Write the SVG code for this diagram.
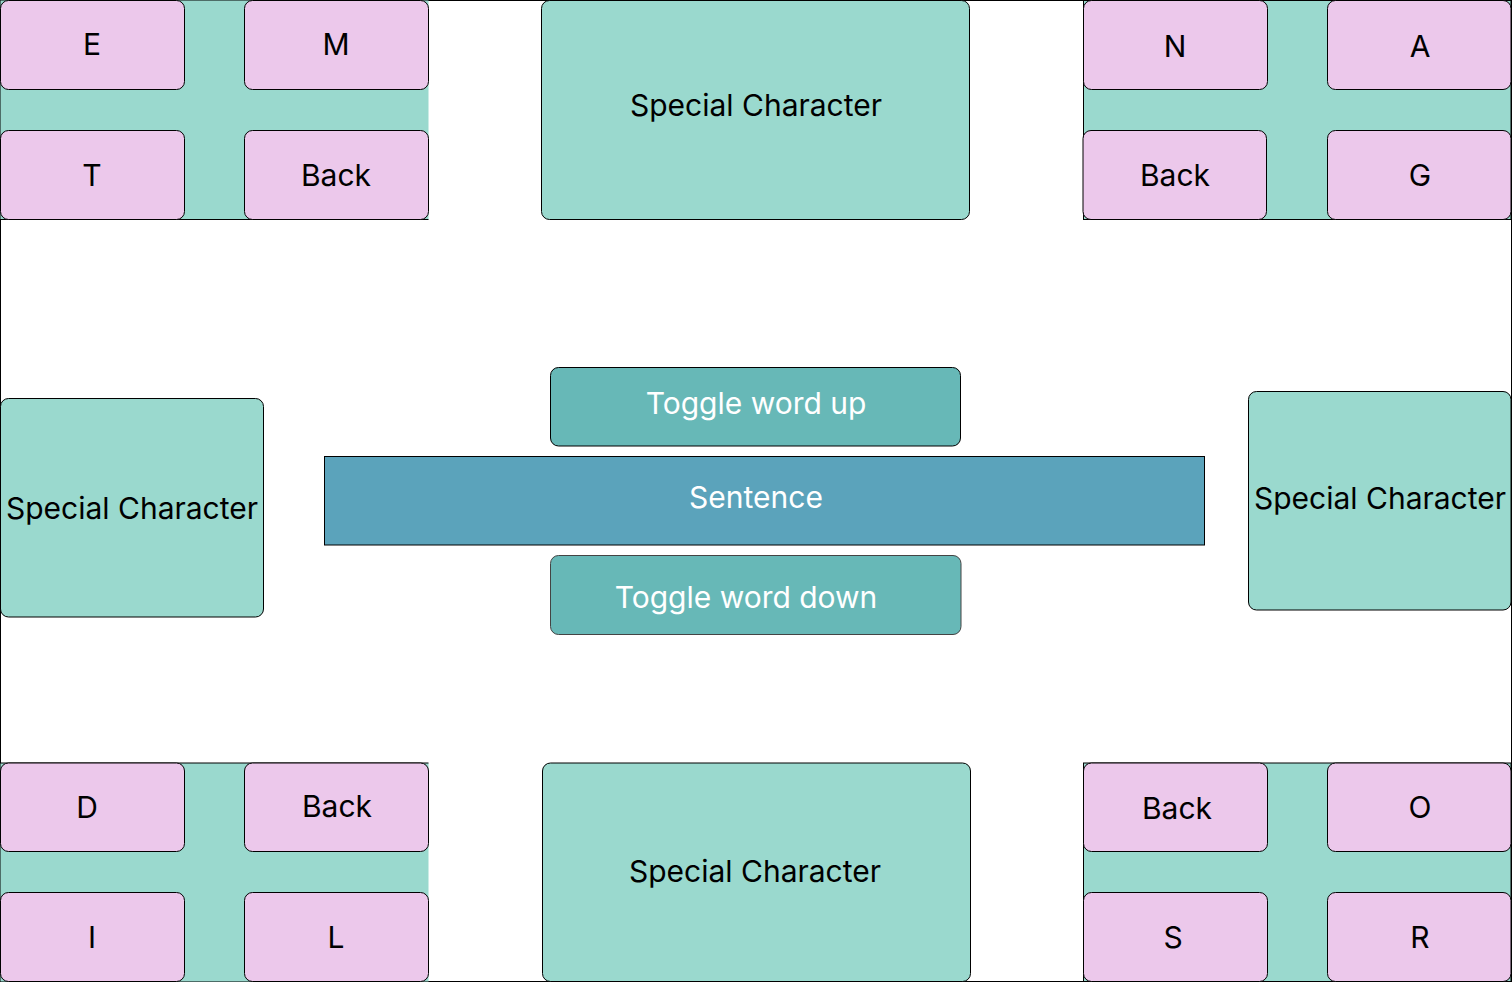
<svg xmlns="http://www.w3.org/2000/svg" width="1512" height="982" viewBox="0 0 1512 982">
<style>
.frame{fill:#ffffff;stroke:#000;stroke-width:1}
.bg{fill:#9AD9CE;stroke:#000;stroke-width:1}
.bgn{fill:#9AD9CE;stroke:none}
.edge{stroke:#000;stroke-width:1;fill:none}
.key{fill:#ECC8EB;stroke:#000;stroke-width:1}
.sc{fill:#9AD9CE;stroke:#000;stroke-width:1}
.tog{fill:#67B8B7;stroke:#000;stroke-width:1}
.sen{fill:#5BA3BB;stroke:#000;stroke-width:1}
text{font-family:Inter,"Noto Sans",sans-serif;font-size:30px;text-anchor:middle;fill:#000}
.w{fill:#fff}
</style>
<rect class="frame" x="0.5" y="0.5" width="1511" height="981"/>
<g id="connectors"/>
<g id="group-tl">
  <rect class="bgn" x="0.5" y="0.5" width="428" height="219"/>
  <line class="edge" x1="0" y1="219.5" x2="428.5" y2="219.5"/>
  <g id="key-E"><rect class="key" x="0.5" y="0.5" width="184" height="89" rx="8"/><text x="92" y="55">E</text></g>
  <g id="key-M"><rect class="key" x="244.5" y="0.5" width="184" height="89" rx="8"/><text x="336" y="55">M</text></g>
  <g id="key-T"><rect class="key" x="0.5" y="130.5" width="184" height="89" rx="8"/><text x="92" y="186">T</text></g>
  <g id="key-back-tl"><rect class="key" x="244.5" y="130.5" width="184" height="89" rx="8"/><text x="336" y="186">Back</text></g>
</g>
<g id="group-tr">
  <rect class="bg" x="1083.5" y="0.5" width="427.5" height="219"/>
  <g id="key-N"><rect class="key" x="1083.5" y="0.5" width="184" height="89" rx="8"/><text x="1175" y="57">N</text></g>
  <g id="key-A"><rect class="key" x="1327.5" y="0.5" width="183.5" height="89" rx="8"/><text x="1420" y="57">A</text></g>
  <g id="key-back-tr"><rect class="key" x="1083" y="130.5" width="183.5" height="89" rx="8"/><text x="1175" y="186">Back</text></g>
  <g id="key-G"><rect class="key" x="1327.5" y="130.5" width="183.5" height="89" rx="8"/><text x="1420" y="186">G</text></g>
</g>
<g id="group-bl">
  <rect class="bgn" x="0.5" y="763" width="428" height="218.5"/>
  <line class="edge" x1="0" y1="763" x2="428.5" y2="763"/>
  <g id="key-D"><rect class="key" x="0.5" y="763" width="184" height="88.5" rx="8"/><text x="87" y="818">D</text></g>
  <g id="key-back-bl"><rect class="key" x="244.5" y="763" width="184" height="88.5" rx="8"/><text x="337" y="817">Back</text></g>
  <g id="key-I"><rect class="key" x="0.5" y="892.5" width="184" height="89" rx="8"/><text x="92" y="948">I</text></g>
  <g id="key-L"><rect class="key" x="244.5" y="892.5" width="184" height="89" rx="8"/><text x="336" y="948">L</text></g>
</g>
<g id="group-br">
  <rect class="bg" x="1083.5" y="763" width="427.5" height="218.5"/>
  <g id="key-back-br"><rect class="key" x="1083.5" y="763" width="184" height="88.5" rx="8"/><text x="1177" y="819">Back</text></g>
  <g id="key-O"><rect class="key" x="1327.5" y="763" width="183.5" height="88.5" rx="8"/><text x="1420" y="818">O</text></g>
  <g id="key-S"><rect class="key" x="1083.5" y="892.5" width="184" height="89" rx="8"/><text x="1173" y="948">S</text></g>
  <g id="key-R"><rect class="key" x="1327.5" y="892.5" width="183.5" height="89" rx="8"/><text x="1420" y="948">R</text></g>
</g>
<g id="special-top"><rect class="sc" x="541.5" y="0.5" width="428" height="219" rx="8"/><text x="756" y="116">Special Character</text></g>
<g id="special-bottom"><rect class="sc" x="542.5" y="763" width="428" height="218.5" rx="8"/><text x="755" y="882">Special Character</text></g>
<g id="special-left"><rect class="sc" x="0.5" y="398.5" width="263" height="218.5" rx="8"/><text x="132" y="519">Special Character</text></g>
<g id="special-right"><rect class="sc" x="1248.5" y="391.5" width="262.5" height="218.5" rx="8"/><text x="1380" y="509">Special Character</text></g>
<g id="toggle-up"><rect class="tog" x="550.5" y="367.5" width="410" height="78.5" rx="8"/><text class="w" x="756" y="414">Toggle word up</text></g>
<g id="sentence"><rect class="sen" x="324.5" y="456.5" width="880" height="88.5"/><text class="w" x="756" y="508">Sentence</text></g>
<g id="toggle-down"><rect class="tog" x="550.5" y="555.5" width="410.5" height="79" rx="8" style="stroke:#444"/><text class="w" x="746" y="608">Toggle word down</text></g>
</svg>
